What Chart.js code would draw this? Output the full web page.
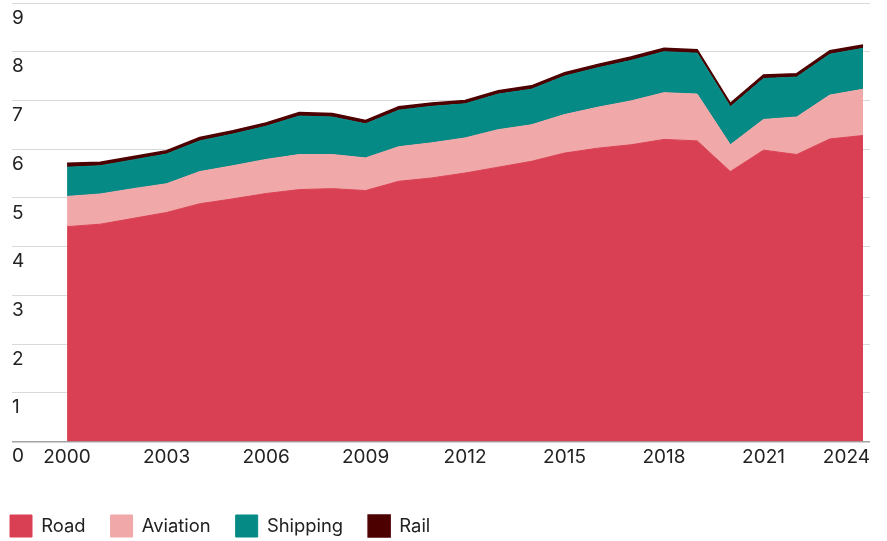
<!DOCTYPE html>
<html>
<head>
<meta charset="utf-8">
<script src="https://cdn.jsdelivr.net/npm/chart.js@4"></script>
<style>
  html, body { margin: 0; padding: 0; background: #fff; }
  #wrap { width: 887px; height: 541px; position: relative; }
</style>
</head>
<body>
<div id="wrap"><canvas id="transportChart"></canvas></div>
<script>
// Transport emissions by mode, stacked
const years = [2000, 2001, 2002, 2003, 2004, 2005, 2006, 2007, 2008, 2009, 2010, 2011, 2012,
  2013, 2014, 2015, 2016, 2017, 2018, 2019, 2020, 2021, 2022, 2023, 2024];
const road = [4.41, 4.46, 4.58, 4.70, 4.88, 4.98, 5.09, 5.17, 5.19, 5.15, 5.34, 5.41, 5.51,
  5.63, 5.75, 5.92, 6.02, 6.09, 6.20, 6.17, 5.54, 5.98, 5.89, 6.21, 6.28];
const aviation = [0.62, 0.62, 0.61, 0.59, 0.66, 0.68, 0.70, 0.72, 0.70, 0.67, 0.71, 0.72, 0.72,
  0.77, 0.75, 0.79, 0.84, 0.90, 0.96, 0.96, 0.55, 0.63, 0.77, 0.90, 0.95];
const shipping = [0.60, 0.58, 0.59, 0.61, 0.63, 0.65, 0.68, 0.79, 0.77, 0.70, 0.75, 0.75, 0.70,
  0.73, 0.73, 0.79, 0.81, 0.83, 0.84, 0.84, 0.78, 0.84, 0.82, 0.84, 0.84];
const rail = [0.08, 0.07, 0.07, 0.07, 0.07, 0.07, 0.07, 0.07, 0.07, 0.07, 0.07, 0.07, 0.07,
  0.07, 0.07, 0.07, 0.07, 0.07, 0.07, 0.07, 0.07, 0.07, 0.07, 0.07, 0.07];
const xTicks = [2000, 2003, 2006, 2009, 2012, 2015, 2018, 2021, 2024];
const yTicks = [0, 1, 2, 3, 4, 5, 6, 7, 8, 9];

const FONT_FAMILY = 'Inter, "Noto Sans", sans-serif';
const TICK_FONT = { family: FONT_FAMILY, size: 19 };
const LEGEND_FONT = { family: FONT_FAMILY, size: 18.4 };

function series(label, values, color, fill, width) {
  return {
    label: label,
    data: values.map((v, i) => ({ x: years[i], y: v })),
    backgroundColor: color,
    borderColor: color,
    borderWidth: width,
    fill: fill,
    tension: 0,
    pointRadius: 0,
    pointHoverRadius: 0
  };
}

// nudges the last x label inside the plot and pulls the legend to the left edge
const layoutTweaks = {
  id: 'layoutTweaks',
  afterLayout(chart) {
    const x = chart.scales.x;
    const items = x.getLabelItems();
    const last = items[items.length - 1];
    if (last) {
      last.options.textAlign = 'right';
      last.options.translation[0] = x.right;
    }
    const lg = chart.legend;
    const pad = lg.options.labels.padding;
    lg.left = 10 - pad;
    lg.top += 6;
    lg.bottom += 6;
  }
};

new Chart(document.getElementById('transportChart'), {
  type: 'line',
  data: {
    datasets: [
      series('Road', road, '#d94053', 'origin', 1),
      series('Aviation', aviation, '#f0a8a9', '-1', 1),
      series('Shipping', shipping, '#058a86', '-1', 1),
      series('Rail', rail, '#4d0000', '-1', 1.5)
    ]
  },
  plugins: [layoutTweaks],
  options: {
    responsive: true,
    maintainAspectRatio: false,
    animation: false,
    layout: { padding: { top: 3, left: 12, right: 17, bottom: 0 } },
    plugins: {
      legend: {
        position: 'bottom',
        align: 'start',
        labels: {
          boxWidth: 22,
          boxHeight: 22,
          padding: 25,
          color: '#222',
          font: LEGEND_FONT
        }
      },
      tooltip: { enabled: false }
    },
    scales: {
      x: {
        type: 'linear',
        min: 1998.34,
        max: 2024.21,
        grid: { display: false, drawTicks: false },
        border: { display: false },
        afterBuildTicks: (s) => { s.ticks = xTicks.map(v => ({ value: v })); },
        afterFit: (s) => { s.height = 42.5; s.paddingRight = 0; s.paddingLeft = 0; },
        ticks: {
          color: '#222',
          font: TICK_FONT,
          padding: 4,
          maxRotation: 0,
          autoSkip: false,
          callback: (v) => String(v)
        }
      },
      y: {
        stacked: true,
        min: 0,
        max: 9,
        border: { display: false },
        afterBuildTicks: (s) => { s.ticks = yTicks.map(v => ({ value: v })); },
        afterFit: (s) => { s.width = 0; s.paddingTop = 0; s.paddingBottom = 0; },
        grid: {
          drawTicks: false,
          color: (ctx) => ctx.tick && ctx.tick.value === 0 ? '#a3a3a3' : '#dadada',
          lineWidth: (ctx) => ctx.tick && ctx.tick.value === 0 ? 1.5 : 1
        },
        ticks: {
          mirror: true,
          padding: 0,
          labelOffset: 15,
          color: '#222',
          font: TICK_FONT,
          callback: (v) => String(v)
        }
      }
    }
  }
});
</script>
</body>
</html>
